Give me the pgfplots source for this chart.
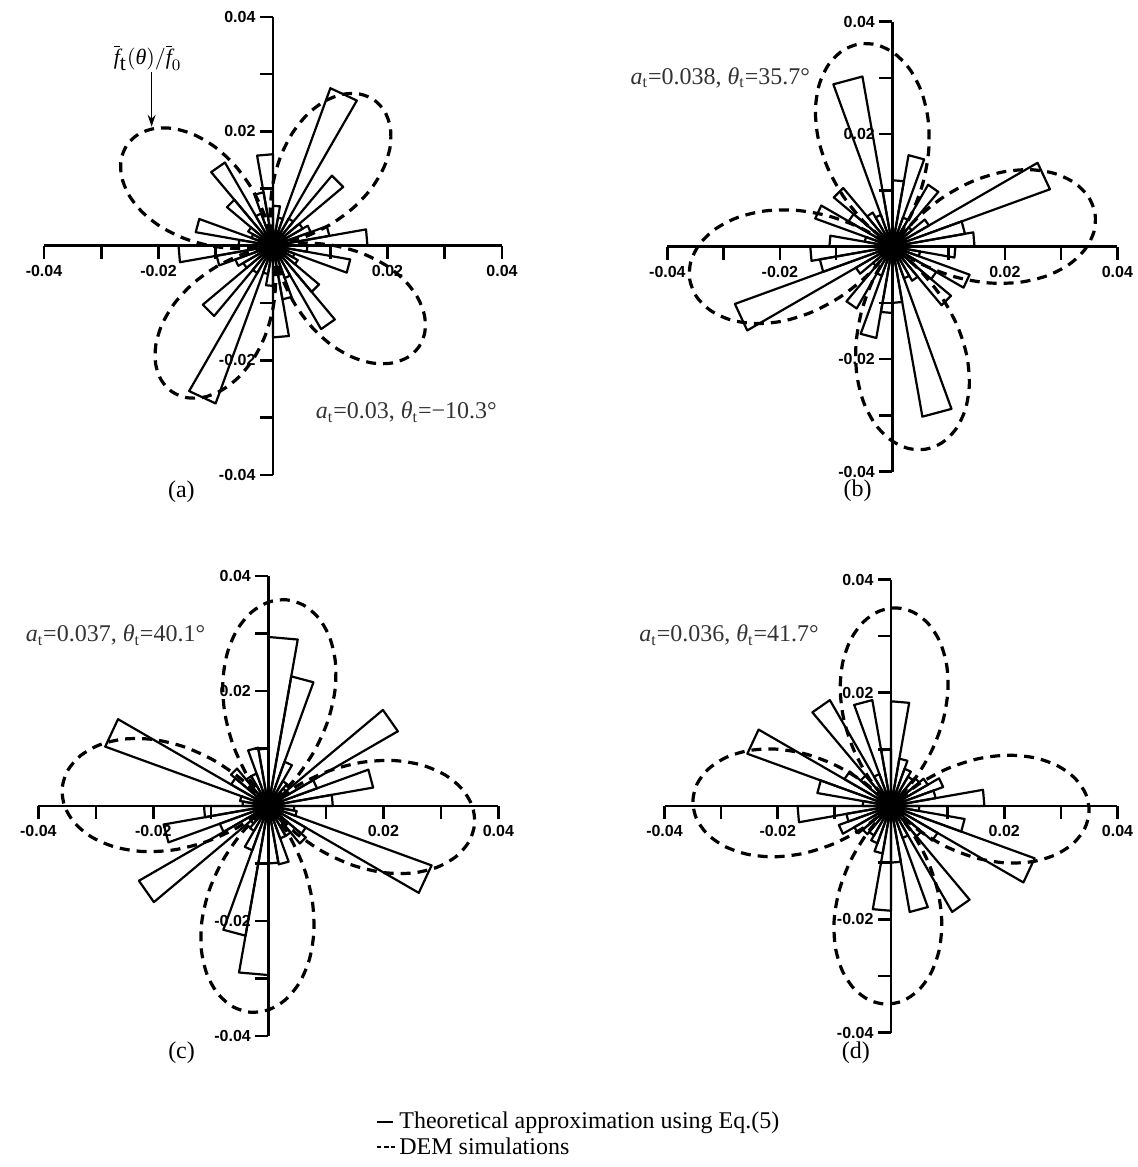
\documentclass[border=0pt]{standalone}
\usepackage{fontspec}
\setmainfont{Liberation Serif}
\setsansfont{Liberation Sans}
\usepackage{pgfplots}
\usepackage{pgfplotstable}
\usetikzlibrary{arrows.meta}
\pgfplotsset{compat=1.18}

% rose bins: t = start angle of 10-degree bin (deg), r in units of 0.001; centrally symmetric
\pgfplotstableread{
t r
0 16.5
10 10
20 7
30 6
40 16
50 5.5
60 29.3
70 5
80 7
90 16
100 9.5
110 6
120 16.8
130 10.5
140 5
150 4
160 13.7
170 6
}\roseA
\pgfplotstableread{
t r
0 14.6
10 13.1
20 29.8
30 7.5
40 4.5
50 12.7
60 5.5
70 16.5
80 11.8
90 10
100 30.7
110 6
120 7
130 13.6
140 9
150 14.6
160 5
170 11.2
}\roseB
\pgfplotstableread{
t r
0 11.2
10 18.5
20 9
30 26
40 4
50 5
60 8.2
70 22.9
80 29.4
90 10
100 10.3
110 6
120 6
130 8.5
140 7.5
150 30.2
160 5
170 4.5
}\roseC
\pgfplotstableread{
t r
0 16.5
10 8
20 9.8
30 7.5
40 6.5
50 6
60 7
70 8.5
80 18.5
90 10
100 19
110 6
120 21.6
130 7
140 9.5
150 27
160 13.2
170 5
}\roseD

% dashed curves: t (deg), r (0.001)
\pgfplotstableread[row sep=\\]{
t r\\
10.3 0\\ 15.3 5.38\\ 20.3 10.60\\ 25.3 15.5\\ 30.3 19.93\\ 35.3 23.75\\ 40.3 26.85\\ 45.3 29.13\\ 50.3 30.53\\
55.3 31\\ 60.3 30.53\\ 65.3 29.13\\ 70.3 26.85\\ 75.3 23.75\\ 80.3 19.93\\ 85.3 15.5\\ 90.3 10.60\\ 95.3 5.38\\
100.3 0\\ 105.3 5.38\\ 110.3 10.60\\ 115.3 15.5\\ 120.3 19.93\\ 125.3 23.75\\ 130.3 26.85\\ 135.3 29.13\\ 140.3 30.53\\
145.3 31\\ 150.3 30.53\\ 155.3 29.13\\ 160.3 26.85\\ 165.3 23.75\\ 170.3 19.93\\ 175.3 15.5\\ 180.3 10.60\\ 185.3 5.38\\
190.3 0\\ 195.3 5.38\\ 200.3 10.60\\ 205.3 15.5\\ 210.3 19.93\\ 215.3 23.75\\ 220.3 26.85\\ 225.3 29.13\\ 230.3 30.53\\
235.3 31\\ 240.3 30.53\\ 245.3 29.13\\ 250.3 26.85\\ 255.3 23.75\\ 260.3 19.93\\ 265.3 15.5\\ 270.3 10.60\\ 275.3 5.38\\
280.3 0\\ 285.3 5.38\\ 290.3 10.60\\ 295.3 15.5\\ 300.3 19.93\\ 305.3 23.75\\ 310.3 26.85\\ 315.3 29.13\\ 320.3 30.53\\
325.3 31\\ 330.3 30.53\\ 335.3 29.13\\ 340.3 26.85\\ 345.3 23.75\\ 350.3 19.93\\ 355.3 15.5\\ 360.3 10.60\\ 365.3 5.38\\
370.3 0\\
}\demA
\pgfplotstableread[row sep=\\]{
t r\\
-35.7 0\\ -30.7 6.34\\ -25.7 12.48\\ -20.7 18.25\\ -15.7 23.46\\ -10.7 27.96\\ -5.7 31.61\\ -0.7 34.30\\ 4.3 35.95\\
9.3 36.5\\ 14.3 35.95\\ 19.3 34.30\\ 24.3 31.61\\ 29.3 27.96\\ 34.3 23.46\\ 39.3 18.25\\ 44.3 12.48\\ 49.3 6.34\\
54.3 0\\ 59.3 6.34\\ 64.3 12.48\\ 69.3 18.25\\ 74.3 23.46\\ 79.3 27.96\\ 84.3 31.61\\ 89.3 34.30\\ 94.3 35.95\\
99.3 36.5\\ 104.3 35.95\\ 109.3 34.30\\ 114.3 31.61\\ 119.3 27.96\\ 124.3 23.46\\ 129.3 18.25\\ 134.3 12.48\\ 139.3 6.34\\
144.3 0\\ 149.3 6.34\\ 154.3 12.48\\ 159.3 18.25\\ 164.3 23.46\\ 169.3 27.96\\ 174.3 31.61\\ 179.3 34.30\\ 184.3 35.95\\
189.3 36.5\\ 194.3 35.95\\ 199.3 34.30\\ 204.3 31.61\\ 209.3 27.96\\ 214.3 23.46\\ 219.3 18.25\\ 224.3 12.48\\ 229.3 6.34\\
234.3 0\\ 239.3 6.34\\ 244.3 12.48\\ 249.3 18.25\\ 254.3 23.46\\ 259.3 27.96\\ 264.3 31.61\\ 269.3 34.30\\ 274.3 35.95\\
279.3 36.5\\ 284.3 35.95\\ 289.3 34.30\\ 294.3 31.61\\ 299.3 27.96\\ 304.3 23.46\\ 309.3 18.25\\ 314.3 12.48\\ 319.3 6.34\\
324.3 0\\
}\demB
\pgfplotstableread[row sep=\\]{
t r\\
-50 0\\ -45 6.25\\ -40 12.31\\ -35 18\\ -30 23.14\\ -25 27.58\\ -20 31.18\\ -15 33.83\\ -10 35.45\\
-5 36\\ 0 35.45\\ 5 33.83\\ 10 31.18\\ 15 27.58\\ 20 23.14\\ 25 18\\ 30 12.31\\ 35 6.25\\
40 0\\ 45 6.25\\ 50 12.31\\ 55 18\\ 60 23.14\\ 65 27.58\\ 70 31.18\\ 75 33.83\\ 80 35.45\\
85 36\\ 90 35.45\\ 95 33.83\\ 100 31.18\\ 105 27.58\\ 110 23.14\\ 115 18\\ 120 12.31\\ 125 6.25\\
130 0\\ 135 6.25\\ 140 12.31\\ 145 18\\ 150 23.14\\ 155 27.58\\ 160 31.18\\ 165 33.83\\ 170 35.45\\
175 36\\ 180 35.45\\ 185 33.83\\ 190 31.18\\ 195 27.58\\ 200 23.14\\ 205 18\\ 210 12.31\\ 215 6.25\\
220 0\\ 225 6.25\\ 230 12.31\\ 235 18\\ 240 23.14\\ 245 27.58\\ 250 31.18\\ 255 33.83\\ 260 35.45\\
265 36\\ 270 35.45\\ 275 33.83\\ 280 31.18\\ 285 27.58\\ 290 23.14\\ 295 18\\ 300 12.31\\ 305 6.25\\
310 0\\
}\demC
\pgfplotstableread[row sep=\\]{
t r\\
-46.5 0\\ -41.5 6.08\\ -36.5 11.97\\ -31.5 17.5\\ -26.5 22.50\\ -21.5 26.81\\ -16.5 30.31\\ -11.5 32.89\\ -6.5 34.47\\
-1.5 35\\ 3.5 34.47\\ 8.5 32.89\\ 13.5 30.31\\ 18.5 26.81\\ 23.5 22.50\\ 28.5 17.5\\ 33.5 11.97\\ 38.5 6.08\\
43.5 0\\ 48.5 6.08\\ 53.5 11.97\\ 58.5 17.5\\ 63.5 22.50\\ 68.5 26.81\\ 73.5 30.31\\ 78.5 32.89\\ 83.5 34.47\\
88.5 35\\ 93.5 34.47\\ 98.5 32.89\\ 103.5 30.31\\ 108.5 26.81\\ 113.5 22.50\\ 118.5 17.5\\ 123.5 11.97\\ 128.5 6.08\\
133.5 0\\ 138.5 6.08\\ 143.5 11.97\\ 148.5 17.5\\ 153.5 22.50\\ 158.5 26.81\\ 163.5 30.31\\ 168.5 32.89\\ 173.5 34.47\\
178.5 35\\ 183.5 34.47\\ 188.5 32.89\\ 193.5 30.31\\ 198.5 26.81\\ 203.5 22.50\\ 208.5 17.5\\ 213.5 11.97\\ 218.5 6.08\\
223.5 0\\ 228.5 6.08\\ 233.5 11.97\\ 238.5 17.5\\ 243.5 22.50\\ 248.5 26.81\\ 253.5 30.31\\ 258.5 32.89\\ 263.5 34.47\\
268.5 35\\ 273.5 34.47\\ 278.5 32.89\\ 283.5 30.31\\ 288.5 26.81\\ 293.5 22.50\\ 298.5 17.5\\ 303.5 11.97\\ 308.5 6.08\\
313.5 0\\
}\demD

\pgfplotsset{
  rosepanel/.style={
    scale only axis, axis lines=middle, axis line style={-, line width=1.4pt},
    xmin=-40, xmax=40, ymin=-40, ymax=40,
    xtick={-40,-20,0,20,40}, xticklabels={-0.04,-0.02,0,0.02,0.04},
    ytick={-40,-20,0,20,40}, yticklabels={-0.04,-0.02,0,0.02,0.04},
    minor xtick={-30,-10,10,30}, minor ytick={-30,-10,10,30},
    tick align=center, major tick length=6.5pt, minor tick length=6.5pt,
    every tick/.style={line width=1.3pt, black},
    xtick style={yshift=-3.25pt}, ytick style={xshift=-3.25pt},
    xticklabel style={font=\sffamily\bfseries\fontsize{8}{9}\selectfont, yshift=-3pt},
    yticklabel style={font=\sffamily\bfseries\fontsize{8}{9}\selectfont, xshift=-2pt},
    clip=false, anchor=south west,
  },
  rosebar/.style={black, line width=1.1pt, line join=round, forget plot},
  dem/.style={black, line width=1.6pt, dash pattern=on 5pt off 3.5pt, smooth, forget plot},
}
\tikzset{
  anno/.style={font=\fontsize{12}{14}\selectfont, text=black!80},
  capt/.style={font=\fontsize{12}{14}\selectfont},
}

\newcommand{\drawrose}[1]{%
  \pgfplotstablegetrowsof{#1}%
  \pgfmathtruncatemacro{\nlast}{\pgfplotsretval-1}%
  \foreach \i in {0,...,\nlast}{%
    \pgfplotstablegetelem{\i}{t}\of{#1}\edef\ta{\pgfplotsretval}%
    \pgfplotstablegetelem{\i}{r}\of{#1}\edef\rr{\pgfplotsretval}%
    \pgfmathsetmacro\xa{\rr*cos(\ta)}\pgfmathsetmacro\ya{\rr*sin(\ta)}%
    \pgfmathsetmacro\xb{\rr*cos(\ta+10)}\pgfmathsetmacro\yb{\rr*sin(\ta+10)}%
    \pgfmathsetmacro\xc{-\xa}\pgfmathsetmacro\yc{-\ya}%
    \pgfmathsetmacro\xd{-\xb}\pgfmathsetmacro\yd{-\yb}%
    \edef\temp{\noexpand\addplot[rosebar] coordinates {(0,0) (\xa,\ya) (\xb,\yb) (0,0)};
      \noexpand\addplot[rosebar] coordinates {(0,0) (\xc,\yc) (\xd,\yd) (0,0)};}%
    \temp
  }%
}
\newcommand{\drawdem}[1]{%
  \addplot[dem] table[x expr=\thisrow{r}*cos(\thisrow{t}), y expr=\thisrow{r}*sin(\thisrow{t})] {#1};%
}

\begin{document}
\begin{tikzpicture}
\path[use as bounding box] (0,0) rectangle (568.5pt,-583.5pt);

% (a)
\begin{axis}[rosepanel, width=229pt, height=229pt, at={(22pt,-237.4pt)}]
\drawrose{\roseA}
\drawdem{\demA}
\node[anno] at (axis cs:23.3,-29.1) {\textit{a}\textsubscript{t}=0.03, \textit{θ}\textsubscript{t}=−10.3°};
\node[font=\fontsize{11}{13}\selectfont] at (axis cs:-21.9,32.8) {$\overline{\textit{f}}_{\textrm{t}}(\textit{θ})/\overline{\textit{f}}_{0}$};
\draw[-{Stealth[length=6pt,width=4pt]}, line width=0.6pt] (axis cs:-21.2,30.4) -- (axis cs:-21.2,20.8);
\node[capt] at (axis cs:-16,-42.9) {(a)};
\end{axis}

% (b)
\begin{axis}[rosepanel, width=225pt, height=225pt, at={(333.7pt,-235.8pt)}]
\drawrose{\roseB}
\drawdem{\demB}
\node[anno] at (axis cs:-30.6,30) {\textit{a}\textsubscript{t}=0.038, \textit{θ}\textsubscript{t}=35.7°};
\node[capt] at (axis cs:-6.2,-43.4) {(b)};
\end{axis}

% (c)
\begin{axis}[rosepanel, width=230pt, height=230pt, at={(19.2pt,-518pt)},
  legend style={draw=none, fill=none, at={(0.732,-0.155)}, anchor=north west,
    font=\fontsize{12}{14}\selectfont, inner sep=0pt, row sep=-1pt, cells={anchor=west}},
  legend cell align=left]
\addlegendimage{legend image code/.code={\draw[black,line width=1pt] (0pt,0pt) -- (8pt,0pt);}}
\addlegendentry{Theoretical approximation using Eq.(5)}
\addlegendimage{legend image code/.code={\draw[black,line width=0.9pt,dash pattern=on 2.4pt off 1.3pt] (0pt,0pt) -- (9pt,0pt);}}
\addlegendentry{DEM simulations}
\drawrose{\roseC}
\drawdem{\demC}
\node[anno] at (axis cs:-26.6,29.7) {\textit{a}\textsubscript{t}=0.037, \textit{θ}\textsubscript{t}=40.1°};
\node[capt] at (axis cs:-15.1,-42.9) {(c)};
\end{axis}

% (d)
\begin{axis}[rosepanel, width=226.5pt, height=226.5pt, at={(332.25pt,-516.25pt)}]
\drawrose{\roseD}
\drawdem{\demD}
\node[anno] at (axis cs:-28.6,30.2) {\textit{a}\textsubscript{t}=0.036, \textit{θ}\textsubscript{t}=41.7°};
\node[capt] at (axis cs:-6.2,-43.6) {(d)};
\end{axis}
\end{tikzpicture}
\end{document}
